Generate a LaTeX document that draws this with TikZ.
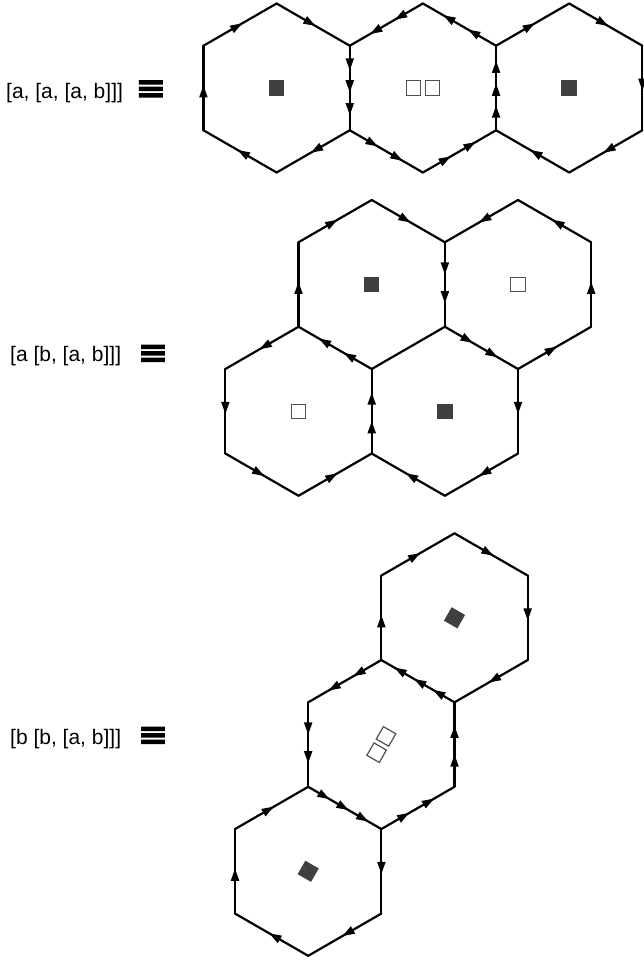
\documentclass[tikz,border=0pt]{standalone}
\usepackage{fontspec}
\setmainfont{Liberation Sans}
\newfontfamily\eqvfont[FakeBold=4]{DejaVu Sans}
\usetikzlibrary{decorations.markings,calc}

\definecolor{sqfill}{HTML}{404040}
\definecolor{sqline}{HTML}{505050}

% radius of one hexagon (pt)
\newcommand\hexr{84.5}
% corners 1..6 of a pointy-top hexagon, clockwise from the top
\newcommand\hexcorners[2]{%
  \foreach \k/\a in {1/90,2/30,3/-30,4/-90,5/-150,6/150}
    \coordinate (#1-\k) at ($(#2)+(\a:\hexr pt)$);}
% filled triangle, tip on the mark
\newcommand\hextip{\fill[line width=0pt] (0pt,0pt) -- (-12pt,4.3pt) -- (-12pt,-4.3pt) -- cycle;}

\tikzset{
  side/.style={line width=2.2pt,line cap=round},
  onearrow/.style={side,postaction={decorate},
    decoration={markings,mark=at position .53 with {\hextip}}},
  twoarrows/.style={side,postaction={decorate},
    decoration={markings,mark=at position .38 with {\hextip},
                mark=at position .72 with {\hextip}}},
  threearrows/.style={side,postaction={decorate},
    decoration={markings,mark=at position .29 with {\hextip},
                mark=at position .55 with {\hextip},
                mark=at position .82 with {\hextip}}},
  fullsq/.style={fill=sqfill,minimum size=15.5pt,inner sep=0pt},
  emptysq/.style={draw=sqline,line width=1.2pt,fill=white,minimum size=14.3pt,inner sep=0pt},
  lbl/.style={anchor=west,inner sep=0pt,font=\fontsize{21}{25}\selectfont},
  eqv/.style={inner sep=0pt,font=\eqvfont\fontsize{36}{40}\selectfont}
}

\begin{document}
\begin{tikzpicture}[x=1pt,y=1pt]
  \useasboundingbox (0,0) rectangle (643,-961);

  % ---- [a, [a, [a, b]]]
  \node[lbl] (lab1) at (6,-93) {[a, [a, [a, b]]]};
  \node[eqv] (eq1) at (150.8,-90.5) {≡};
  \coordinate (A) at (276.6,-88);
  \coordinate (B) at ($(A)+(146.3,0)$);
  \coordinate (C) at ($(B)+(146.3,0)$);
  \hexcorners{A}{A} \hexcorners{B}{B} \hexcorners{C}{C}

  \foreach \p/\q in {A-6/A-1,A-1/A-2,A-3/A-4,A-4/A-5,A-5/A-6,
                     C-6/C-1,C-1/C-2,C-2/C-3,C-3/C-4,C-4/C-5}
    \draw[onearrow] (\p) -- (\q);
  \foreach \p/\q in {B-1/B-6,B-2/B-1,B-4/B-3,B-5/B-4}
    \draw[twoarrows] (\p) -- (\q);
  \foreach \p/\q in {A-2/A-3,B-3/B-2}
    \draw[threearrows] (\p) -- (\q);

  \node[fullsq] (sqA) at (A) {};
  \node[emptysq] (sqB1) at ($(B)+(-9.4,0)$) {};
  \node[emptysq] (sqB2) at ($(B)+(9.4,0)$) {};
  \node[fullsq] (sqC) at (C) {};

  % ---- [a [b, [a, b]]]
  \node[lbl] (lab2) at (10,-356) {[a [b, [a, b]]]};
  \node[eqv] (eq2) at (153,-355) {≡};
  \coordinate (m1) at (371.7,-284.5);
  \coordinate (m2) at ($(m1)+(146.3,0)$);
  \coordinate (m3) at ($(m1)+(-73.15,-126.75)$);
  \coordinate (m4) at ($(m3)+(146.3,0)$);
  \hexcorners{m1}{m1} \hexcorners{m2}{m2}
  \hexcorners{m3}{m3} \hexcorners{m4}{m4}

  \foreach \p/\q in {m1-6/m1-1,m1-1/m1-2,m1-5/m1-6,
                     m2-1/m2-6,m2-2/m2-1,m2-3/m2-2,m2-4/m2-3,
                     m3-1/m3-6,m3-6/m3-5,m3-5/m3-4,m3-4/m3-3,
                     m4-2/m4-3,m4-3/m4-4,m4-4/m4-5}
    \draw[onearrow] (\p) -- (\q);
  \foreach \p/\q in {m1-2/m1-3,m1-4/m1-5,m2-5/m2-4,m3-3/m3-2}
    \draw[twoarrows] (\p) -- (\q);
  \draw[side] (m1-3) -- (m1-4);

  \node[fullsq] (sqm1) at (m1) {};
  \node[emptysq] (sqm2) at (m2) {};
  \node[emptysq] (sqm3) at (m3) {};
  \node[fullsq] (sqm4) at (m4) {};

  % ---- [b [b, [a, b]]]
  \node[lbl] (lab3) at (10,-739) {[b [b, [a, b]]]};
  \node[eqv] (eq3) at (153,-737) {≡};
  \coordinate (b1) at (454.5,-617.8);
  \coordinate (b2) at ($(b1)+(-73.15,-126.75)$);
  \coordinate (b3) at ($(b2)+(-73.15,-126.75)$);
  \hexcorners{b1}{b1} \hexcorners{b2}{b2} \hexcorners{b3}{b3}

  \foreach \p/\q in {b1-6/b1-1,b1-1/b1-2,b1-2/b1-3,b1-3/b1-4,b1-5/b1-6,
                     b3-2/b3-3,b3-3/b3-4,b3-4/b3-5,b3-5/b3-6,b3-6/b3-1}
    \draw[onearrow] (\p) -- (\q);
  \foreach \p/\q in {b2-1/b2-6,b2-6/b2-5,b2-4/b2-3,b2-3/b2-2}
    \draw[twoarrows] (\p) -- (\q);
  \foreach \p/\q in {b1-4/b1-5,b2-5/b2-4}
    \draw[threearrows] (\p) -- (\q);

  \node[fullsq,rotate=60] (sqb1) at (b1) {};
  \node[emptysq,rotate=60] (sqb21) at ($(b2)+(60:9.4)$) {};
  \node[emptysq,rotate=60] (sqb22) at ($(b2)+(240:9.4)$) {};
  \node[fullsq,rotate=60] (sqb3) at (b3) {};
\end{tikzpicture}
\end{document}
